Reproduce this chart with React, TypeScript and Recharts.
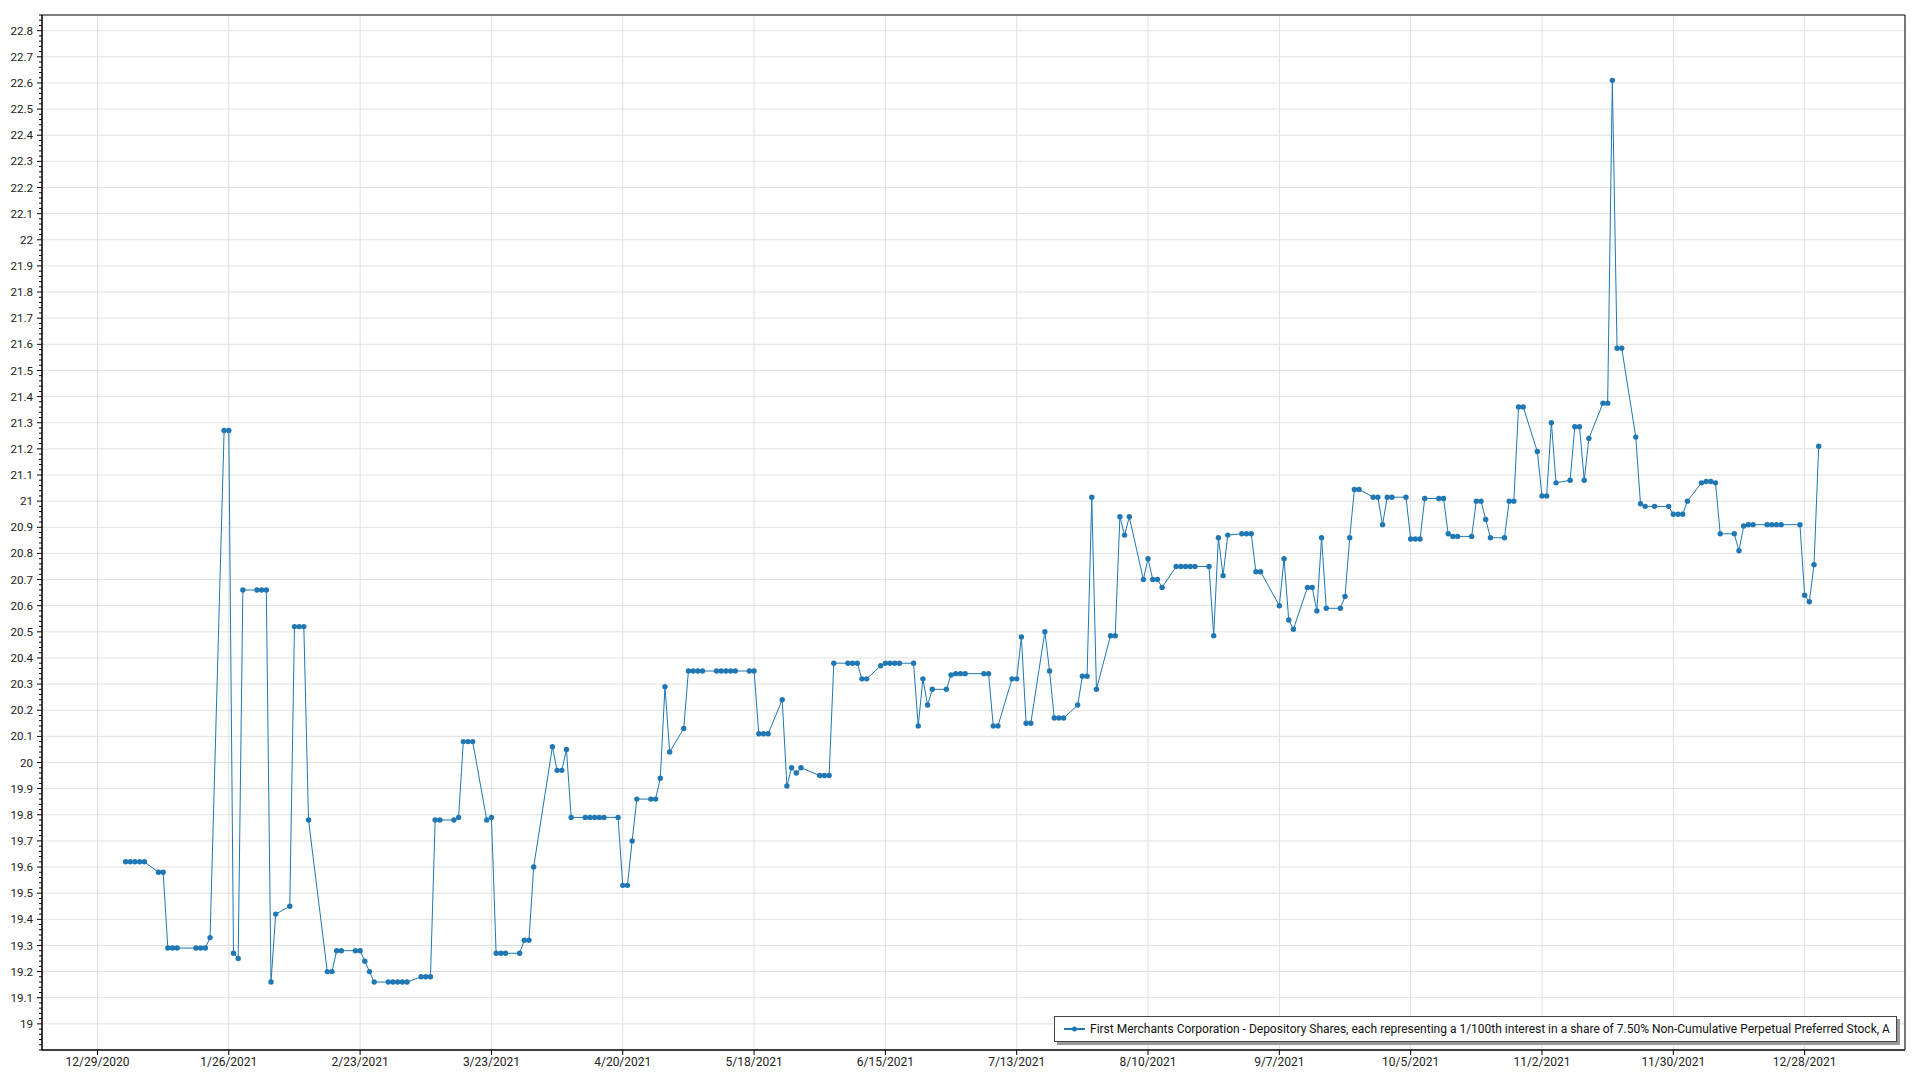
import { LineChart, Line, XAxis, YAxis, CartesianGrid, Legend, ReferenceArea } from 'recharts';

const seriesName =
  'First Merchants Corporation - Depository Shares, each representing a 1/100th interest in a share of 7.50% Non-Cumulative Perpetual Preferred Stock, A';

// [day of month, price] per month of 2021
const jan = [[4, 19.62], [5, 19.62], [6, 19.62], [7, 19.62], [8, 19.62], [11, 19.58], [12, 19.58], [13, 19.29], [14, 19.29], [15, 19.29], [19, 19.29], [20, 19.29], [21, 19.29], [22, 19.33], [25, 21.27], [26, 21.27], [27, 19.27], [28, 19.25], [29, 20.66]];
const feb = [[1, 20.66], [2, 20.66], [3, 20.66], [4, 19.16], [5, 19.42], [8, 19.45], [9, 20.52], [10, 20.52], [11, 20.52], [12, 19.78], [16, 19.2], [17, 19.2], [18, 19.28], [19, 19.28], [22, 19.28], [23, 19.28], [24, 19.24], [25, 19.2], [26, 19.16]];
const mar = [[1, 19.16], [2, 19.16], [3, 19.16], [4, 19.16], [5, 19.16], [8, 19.18], [9, 19.18], [10, 19.18], [11, 19.78], [12, 19.78], [15, 19.78], [16, 19.79], [17, 20.08], [18, 20.08], [19, 20.08], [22, 19.78], [23, 19.79], [24, 19.27], [25, 19.27], [26, 19.27], [29, 19.27], [30, 19.32], [31, 19.32]];
const apr = [[1, 19.6], [5, 20.06], [6, 19.97], [7, 19.97], [8, 20.05], [9, 19.79], [12, 19.79], [13, 19.79], [14, 19.79], [15, 19.79], [16, 19.79], [19, 19.79], [20, 19.53], [21, 19.53], [22, 19.7], [23, 19.86], [26, 19.86], [27, 19.86], [28, 19.94], [29, 20.29], [30, 20.04]];
const may = [[3, 20.13], [4, 20.35], [5, 20.35], [6, 20.35], [7, 20.35], [10, 20.35], [11, 20.35], [12, 20.35], [13, 20.35], [14, 20.35], [17, 20.35], [18, 20.35], [19, 20.11], [20, 20.11], [21, 20.11], [24, 20.24], [25, 19.91], [26, 19.98], [27, 19.96], [28, 19.98]];
const jun = [[1, 19.95], [2, 19.95], [3, 19.95], [4, 20.38], [7, 20.38], [8, 20.38], [9, 20.38], [10, 20.32], [11, 20.32], [14, 20.37], [15, 20.38], [16, 20.38], [17, 20.38], [18, 20.38], [21, 20.38], [22, 20.14], [23, 20.32], [24, 20.22], [25, 20.28], [28, 20.28], [29, 20.335], [30, 20.34]];
const jul = [[1, 20.34], [2, 20.34], [6, 20.34], [7, 20.34], [8, 20.14], [9, 20.14], [12, 20.32], [13, 20.32], [14, 20.48], [15, 20.15], [16, 20.15], [19, 20.5], [20, 20.35], [21, 20.17], [22, 20.17], [23, 20.17], [26, 20.22], [27, 20.33], [28, 20.33], [29, 21.015], [30, 20.28]];
const aug = [[2, 20.485], [3, 20.485], [4, 20.94], [5, 20.87], [6, 20.94], [9, 20.7], [10, 20.78], [11, 20.7], [12, 20.7], [13, 20.67], [16, 20.75], [17, 20.75], [18, 20.75], [19, 20.75], [20, 20.75], [23, 20.75], [24, 20.485], [25, 20.86], [26, 20.715], [27, 20.87], [30, 20.875], [31, 20.875]];
const sep = [[1, 20.875], [2, 20.73], [3, 20.73], [7, 20.6], [8, 20.78], [9, 20.545], [10, 20.51], [13, 20.67], [14, 20.67], [15, 20.58], [16, 20.86], [17, 20.59], [20, 20.59], [21, 20.635], [22, 20.86], [23, 21.045], [24, 21.045], [27, 21.015], [28, 21.015], [29, 20.91], [30, 21.015]];
const oct = [[1, 21.015], [4, 21.015], [5, 20.855], [6, 20.855], [7, 20.855], [8, 21.01], [11, 21.01], [12, 21.01], [13, 20.875], [14, 20.865], [15, 20.865], [18, 20.865], [19, 21.0], [20, 21.0], [21, 20.93], [22, 20.86], [25, 20.86], [26, 21.0], [27, 21.0], [28, 21.36], [29, 21.36]];
const nov = [[1, 21.19], [2, 21.02], [3, 21.02], [4, 21.3], [5, 21.07], [8, 21.08], [9, 21.285], [10, 21.285], [11, 21.08], [12, 21.24], [15, 21.375], [16, 21.375], [17, 22.61], [18, 21.585], [19, 21.585], [22, 21.245], [23, 20.99], [24, 20.98], [26, 20.98], [29, 20.98], [30, 20.95]];
const dec = [[1, 20.95], [2, 20.95], [3, 21.0], [6, 21.07], [7, 21.075], [8, 21.075], [9, 21.07], [10, 20.875], [13, 20.875], [14, 20.81], [15, 20.905], [16, 20.91], [17, 20.91], [20, 20.91], [21, 20.91], [22, 20.91], [23, 20.91], [27, 20.91], [28, 20.64], [29, 20.615], [30, 20.757], [31, 21.21]];

const xTickDates = ['2020-12-29', '2021-01-26', '2021-02-23', '2021-03-23', '2021-04-20', '2021-05-18', '2021-06-15', '2021-07-13', '2021-08-10', '2021-09-07', '2021-10-05', '2021-11-02', '2021-11-30', '2021-12-28'];
const yTickLabels = [19, 19.1, 19.2, 19.3, 19.4, 19.5, 19.6, 19.7, 19.8, 19.9, 20, 20.1, 20.2, 20.3, 20.4, 20.5, 20.6, 20.7, 20.8, 20.9, 21, 21.1, 21.2, 21.3, 21.4, 21.5, 21.6, 21.7, 21.8, 21.9, 22, 22.1, 22.2, 22.3, 22.4, 22.5, 22.6, 22.7, 22.8];

const DAY = 86400000;
const months = [jan, feb, mar, apr, may, jun, jul, aug, sep, oct, nov, dec];
const data = months.flatMap((rows, i) => rows.map(([d, v]) => ({ t: Date.UTC(2021, i, d), price: v })));

const xTicks = xTickDates.map((s) => Date.parse(s + 'T00:00:00Z'));
const xDomain = [xTicks[0] - 11.83 * DAY, xTicks[0] + 385.4 * DAY];
const yDomain = [18.9, 22.86];

// major ticks plus minor ticks every 0.02
const yAllTicks: number[] = [];
for (let k = 1890; k <= 2286; k += 2) yAllTicks.push(k / 100);

const blue = '#1f77b4';
const font = 'Roboto, "Noto Sans", sans-serif';

const fmtDate = (t: number) => {
  const d = new Date(t);
  return `${d.getUTCMonth() + 1}/${d.getUTCDate()}/${d.getUTCFullYear()}`;
};

const YTick = (props: any) => {
  const { x, y, payload } = props;
  const v = payload.value;
  const major = yTickLabels.some((m) => Math.abs(m - v) < 1e-6);
  const ax = x + 9;
  return (
    <g>
      <line x1={ax - (major ? 5 : 3)} x2={ax} y1={y} y2={y} stroke="#000" />
      {major && (
        <text x={x} y={y} dy="0.35em" textAnchor="end" fontSize={11.6} fill="#222" fontFamily={font}>
          {String(v)}
        </text>
      )}
    </g>
  );
};

const LegendBox = () => (
  <div
    style={{
      width: 843,
      height: 26,
      boxSizing: 'border-box',
      border: '1px solid #444',
      background: '#fff',
      boxShadow: '3px 3px 0 #999',
      display: 'flex',
      alignItems: 'center',
      paddingLeft: 9,
      fontFamily: font,
      fontSize: 12,
      color: '#111',
      whiteSpace: 'nowrap',
    }}
  >
    <svg width={21} height={8}>
      <line x1={0} y1={4} x2={21} y2={4} stroke={blue} strokeWidth={2} />
      <circle cx={10.5} cy={4} r={2.5} fill={blue} />
    </svg>
    <span style={{ marginLeft: 5, fontSize: 12 }}>{seriesName}</span>
  </div>
);

const App = () => {
  return (
    <div style={{ position: 'absolute', left: 0, top: 0 }}>
      <LineChart width={1920} height={1080} data={data} margin={{ top: 15, right: 15, bottom: 0, left: 0 }} style={{ fontFamily: font }}>
        <CartesianGrid stroke="#e0e0e0" horizontalValues={yTickLabels} />
        <XAxis
          dataKey="t"
          type="number"
          domain={xDomain}
          ticks={xTicks}
          interval={0}
          allowDataOverflow
          tickFormatter={fmtDate}
          height={30}
          tickSize={5}
          tickMargin={2}
          axisLine={{ stroke: '#000' }}
          tickLine={{ stroke: '#000' }}
          tick={{ fontSize: 12, fill: '#222', fontFamily: font }}
        />
        <YAxis
          type="number"
          domain={yDomain}
          ticks={yAllTicks}
          interval={0}
          allowDataOverflow
          width={42}
          tickLine={false}
          tickSize={0}
          tickMargin={9}
          axisLine={{ stroke: '#000' }}
          tick={<YTick />}
        />
        <ReferenceArea x1={xDomain[0]} x2={xDomain[1]} y1={yDomain[0]} y2={yDomain[1]} fill="none" stroke="#000" strokeWidth={1} ifOverflow="visible" />
        <Legend
          layout="horizontal"
          verticalAlign="middle"
          align="center"
          wrapperStyle={{ left: 1054, top: 1016, width: 'auto', height: 'auto' }}
          content={<LegendBox />}
        />
        <Line
          name={seriesName}
          dataKey="price"
          stroke={blue}
          strokeWidth={1}
          dot={{ r: 2.7, fill: blue, stroke: 'none' }}
          activeDot={false}
          isAnimationActive={false}
        />
      </LineChart>
    </div>
  );
};

export default App;
